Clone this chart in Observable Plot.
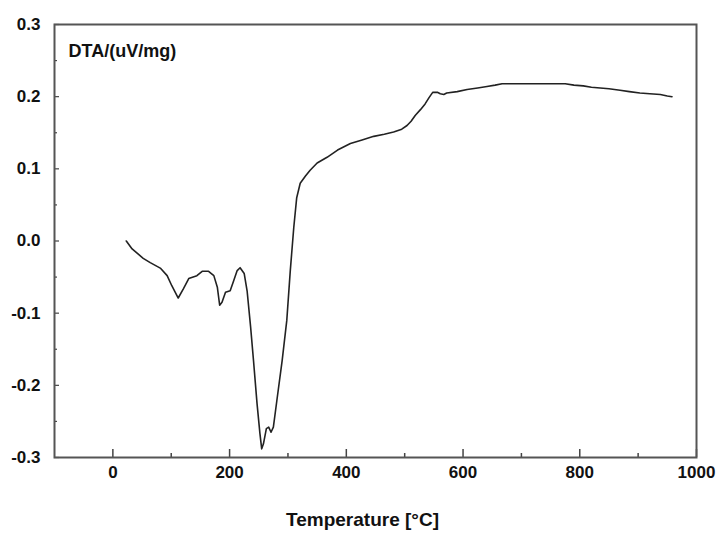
<!DOCTYPE html>
<html>
<head>
<meta charset="utf-8">
<script src="https://cdn.jsdelivr.net/npm/d3@7"></script>
<script src="https://cdn.jsdelivr.net/npm/@observablehq/plot@0.6"></script>
<style>
  html, body { margin: 0; padding: 0; background: #fff; }
  #chart svg { display: block; }
</style>
</head>
<body>
<div id="chart"></div>
<script>
// Temperature [°C]
const temperature = [23, 33, 52, 64, 82, 93, 101, 112, 121, 130, 144, 153, 164, 173, 179, 183, 187, 193, 201, 207, 213, 218, 225, 230, 236, 241, 247, 252, 255, 258, 263, 267, 271, 275, 281, 290, 298, 304, 310, 315, 321, 330, 338, 350, 367, 385, 407, 427, 447, 465, 481, 495, 504, 511, 518, 527, 535, 542, 548, 556, 561, 567, 572, 590, 607, 625, 641, 655, 667, 700, 721, 750, 775, 790, 806, 820, 835, 850, 869, 885, 903, 920, 938, 950, 958];
// DTA/(uV/mg)
const dta = [0.000, -0.011, -0.024, -0.030, -0.038, -0.048, -0.062, -0.079, -0.066, -0.052, -0.048, -0.042, -0.042, -0.048, -0.064, -0.089, -0.085, -0.071, -0.069, -0.055, -0.041, -0.037, -0.045, -0.069, -0.119, -0.166, -0.225, -0.267, -0.288, -0.281, -0.260, -0.258, -0.265, -0.258, -0.221, -0.166, -0.110, -0.041, 0.019, 0.060, 0.080, 0.090, 0.098, 0.108, 0.116, 0.126, 0.135, 0.140, 0.145, 0.148, 0.151, 0.155, 0.160, 0.166, 0.174, 0.182, 0.190, 0.199, 0.206, 0.206, 0.204, 0.203, 0.205, 0.207, 0.210, 0.212, 0.214, 0.216, 0.218, 0.218, 0.218, 0.218, 0.218, 0.216, 0.215, 0.213, 0.212, 0.211, 0.209, 0.207, 0.205, 0.204, 0.203, 0.201, 0.200];

const xMajorTicks = [0, 200, 400, 600, 800, 1000];
const xMinorTicks = [100, 300, 500, 700, 900];
const yMajorTicks = [-0.3, -0.2, -0.1, 0.0, 0.1, 0.2, 0.3];
const yMinorTicks = [-0.25, -0.15, -0.05, 0.05, 0.15, 0.25];
const xLabel = "Temperature [°C]";
const yLabel = "DTA/(uV/mg)";

const data = temperature.map((t, i) => ({t, v: dta[i]}));
const font = '"Liberation Sans", Arial, sans-serif';

const chart = Plot.plot({
  width: 717,
  height: 534,
  marginLeft: 54,
  marginRight: 21,
  marginTop: 24,
  marginBottom: 77,
  style: {fontFamily: font, fontWeight: "bold", fontSize: "17px", color: "#111", background: "#fff"},
  x: {domain: [-100, 1000]},
  y: {domain: [-0.3, 0.3]},
  marks: [
    Plot.axisX({ticks: xMinorTicks, tickSize: -4, tickFormat: () => "", label: null, stroke: "#444", strokeWidth: 1.5}),
    Plot.axisX({ticks: xMajorTicks, tickSize: -8, tickPadding: 16, tickFormat: d => String(d), label: null, stroke: "#444", strokeWidth: 1.5, fontSize: 17}),
    Plot.axisY({ticks: yMinorTicks, tickSize: -3, tickFormat: () => "", label: null, stroke: "#444", strokeWidth: 1.2}),
    Plot.axisY({ticks: yMajorTicks, tickSize: -5, tickPadding: 19, tickFormat: d => d.toFixed(1), label: null, stroke: "#444", strokeWidth: 1.2, fontSize: 17}),
    Plot.frame({stroke: "#555", strokeWidth: 2}),
    Plot.line(data, {x: "t", y: "v", stroke: "#222", strokeWidth: 1.6, curve: "linear"}),
    Plot.text([yLabel], {text: d => d, frameAnchor: "top-left", dx: 14, dy: 20, fontSize: 18, fontWeight: "bold", fill: "#111"}),
    Plot.text([xLabel], {text: d => d, frameAnchor: "bottom", dx: -13, dy: 68, fontSize: 19, fontWeight: "bold", fill: "#111"})
  ]
});
document.getElementById("chart").appendChild(chart);
</script>
</body>
</html>
